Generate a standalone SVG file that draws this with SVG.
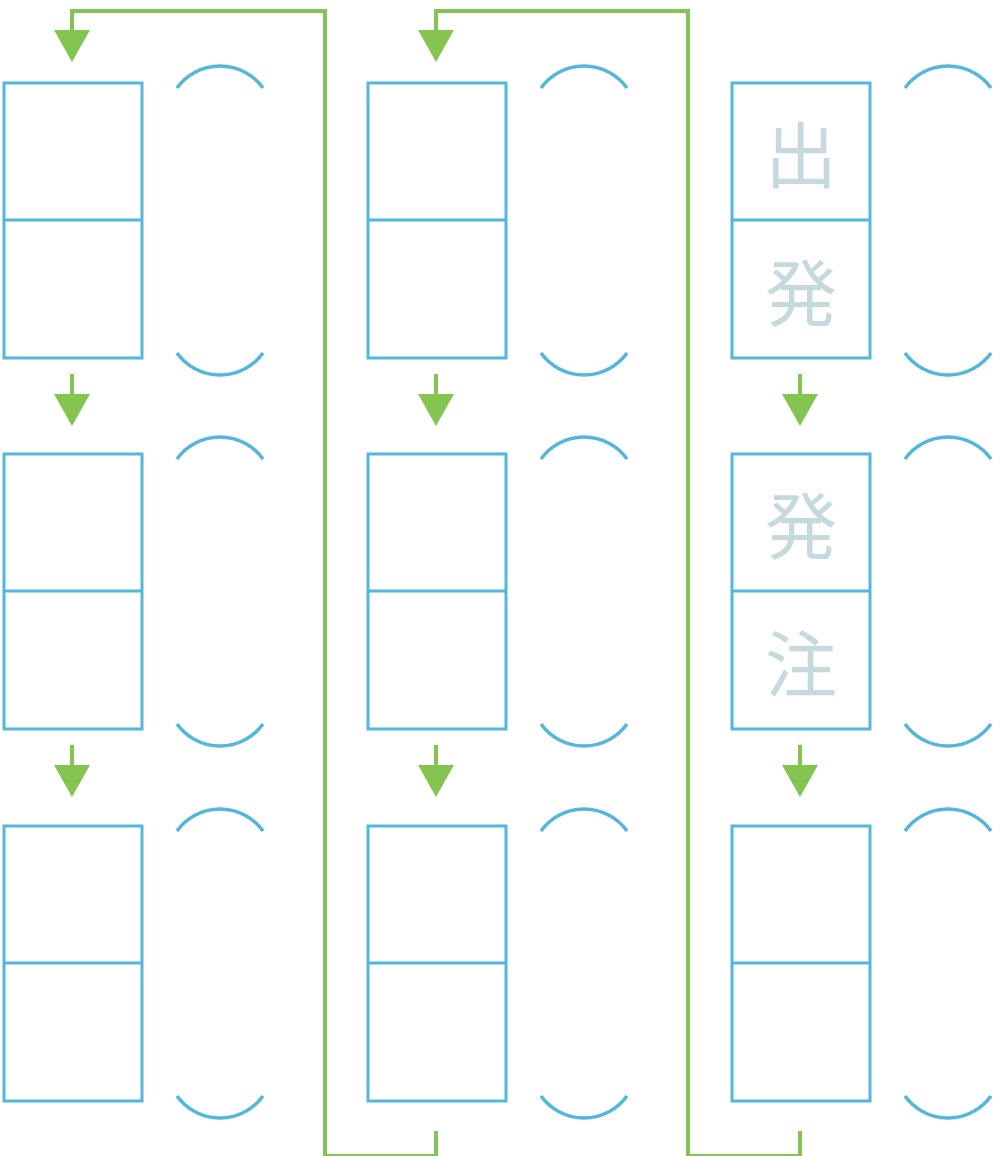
<svg xmlns="http://www.w3.org/2000/svg" width="1002" height="1156" viewBox="0 0 1002 1156">
<defs>
<style>
.box{fill:#fff;stroke:#53b7db;stroke-width:3}
.div{stroke:#53b7db;stroke-width:3}
.br{fill:none;stroke:#53b7db;stroke-width:3.5}
.ln{fill:none;stroke:#84c551;stroke-width:4}
.ah{fill:#84c551}
.t{font-family:"Noto Sans CJK JP","Noto Sans CJK SC",sans-serif;font-size:72px;fill:#c6dade;text-anchor:middle;dominant-baseline:central}
</style>
<g id="cell">
<rect class="box" x="0" y="0" width="138" height="275"/>
<line class="div" x1="0" y1="137" x2="138" y2="137"/>
</g>
<g id="brk">
<path class="br" d="M0,5 A53,53 0 0 1 86,5"/>
<path class="br" d="M0,270 A53,53 0 0 0 86,270"/>
</g>
<g id="arr">
<line class="ln" x1="0" y1="0" x2="0" y2="22"/>
<polygon class="ah" points="-18,20 18,20 0,52"/>
</g>
</defs>
<g id="connectors">
<path class="ln" d="M436,1131 V1156 H325 V11 H72 V32"/>
<polygon class="ah" points="54,30 90,30 72,62"/>
<path class="ln" d="M800,1131 V1156 H688 V11 H436 V32"/>
<polygon class="ah" points="418,30 454,30 436,62"/>
<use href="#arr" x="72" y="374"/>
<use href="#arr" x="72" y="745"/>
<use href="#arr" x="436" y="374"/>
<use href="#arr" x="436" y="745"/>
<use href="#arr" x="800" y="374"/>
<use href="#arr" x="800" y="745"/>
</g>
<g id="n11"><use href="#cell" x="4" y="83"/><use href="#brk" x="177" y="83"/></g>
<g id="n12"><use href="#cell" x="4" y="454"/><use href="#brk" x="177" y="454"/></g>
<g id="n13"><use href="#cell" x="4" y="826"/><use href="#brk" x="177" y="826"/></g>
<g id="n21"><use href="#cell" x="368" y="83"/><use href="#brk" x="541" y="83"/></g>
<g id="n22"><use href="#cell" x="368" y="454"/><use href="#brk" x="541" y="454"/></g>
<g id="n23"><use href="#cell" x="368" y="826"/><use href="#brk" x="541" y="826"/></g>
<g id="n31"><use href="#cell" x="732" y="83"/><use href="#brk" x="905" y="83"/>
<text class="t" x="801" y="150">出</text><text class="t" x="801" y="288">発</text></g>
<g id="n32"><use href="#cell" x="732" y="454"/><use href="#brk" x="905" y="454"/>
<text class="t" x="801" y="521">発</text><text class="t" x="801" y="659">注</text></g>
<g id="n33"><use href="#cell" x="732" y="826"/><use href="#brk" x="905" y="826"/></g>
</svg>
